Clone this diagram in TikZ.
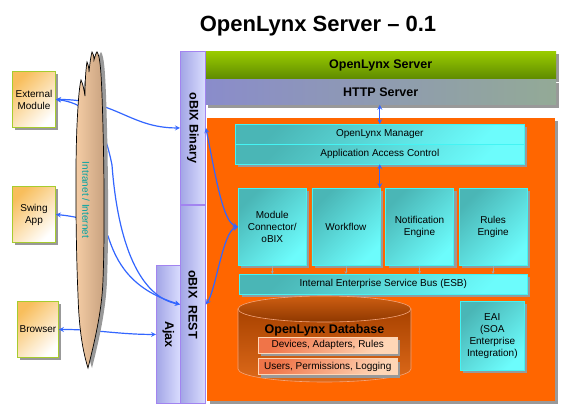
\documentclass[tikz,border=0pt]{standalone}
\usepackage{fontspec}
\setmainfont{Liberation Sans}
\usepackage{tikz}
\usetikzlibrary{arrows.meta, positioning, shadows, calc}

\definecolor{lynxgreen}{HTML}{9ACC00}
\definecolor{lynxgreendark}{HTML}{5E8A00}
\definecolor{httpleft}{HTML}{8A8CCB}
\definecolor{httpright}{HTML}{93AA96}
\definecolor{obixdark}{HTML}{A3A6E6}
\definecolor{obixlight}{HTML}{DADDFE}
\definecolor{obixrim}{HTML}{A284F0}
\definecolor{coreorange}{HTML}{FF6600}
\definecolor{tealdark}{HTML}{4AB6B6}
\definecolor{teallight}{HTML}{6CFCFC}
\definecolor{tealrim}{HTML}{44F4F4}
\definecolor{clientorange}{HTML}{F8BE5C}
\definecolor{clientrim}{HTML}{A6CC2E}
\definecolor{linkblue}{HTML}{3366FF}
\definecolor{nettan}{HTML}{C6A07E}
\definecolor{netlight}{HTML}{F6CEA6}
\definecolor{nettext}{HTML}{00A3A3}
\definecolor{dbdark}{HTML}{A84200}
\definecolor{dblight}{HTML}{DE6A1A}
\definecolor{dbrim}{HTML}{F4A47A}
\definecolor{dbitemdark}{HTML}{F07448}
\definecolor{dbitemlight}{HTML}{FFD6B6}

% outline of the intranet / internet cloud
\newcommand{\netoutline}{(88,368) .. controls (83,352) and (79,330) .. (78,295)
    .. controls (76,250) and (75,170) .. (77,125)
    .. controls (78,105) and (79,88) .. (81,80)
    .. controls (83,84) and (84,90) .. (85,96)
    .. controls (85,80) and (86,68) .. (87,62)
    .. controls (88,64) and (89,68) .. (89,72)
    .. controls (90,62) and (91,55) .. (92,52)
    .. controls (93,53) and (94,56) .. (94,60)
    .. controls (95,56) and (96,53) .. (97,52)
    .. controls (100,56) and (101,70) .. (102,95)
    .. controls (104,150) and (105,230) .. (103,280)
    .. controls (102,310) and (95,340) .. (88,368) -- cycle}

\begin{document}
\begin{tikzpicture}[
    x=1pt, y=-1pt,
    % Box styles
    basebox/.style={inner sep=1pt, align=center, font=\fontsize{10}{12}\selectfont},
    shadowed/.style={drop shadow={shadow xshift=3pt, shadow yshift=-3pt, fill=black!40, opacity=1}},
    clientbox/.style={basebox, shadowed, draw=clientrim, line width=0.9pt, top color=clientorange, bottom color=white, shading angle=45, minimum width=43pt, minimum height=56pt},
    obixbox/.style={basebox, draw=obixrim, line width=0.9pt, left color=obixdark, right color=obixlight, minimum width=25pt, font=\fontsize{12.5}{14}\selectfont\bfseries},
    barbox/.style={basebox, shadowed, minimum width=351pt, font=\fontsize{12.5}{14}\selectfont\bfseries},
    % Core component styles
    tealbox/.style={basebox, shadowed, draw=tealrim, line width=0.6pt, top color=tealdark, bottom color=teallight, shading angle=45},
    modbox/.style={tealbox, minimum width=68pt, minimum height=77pt},
    tealbar/.style={tealbox, minimum height=19.5pt},
    dbitem/.style={basebox, shadowed, top color=dbitemdark, bottom color=dbitemlight, shading angle=45, draw=dbitemlight, minimum width=139pt, minimum height=16pt},
    caption/.style={font=\fontsize{12.5}{14}\selectfont\bfseries},
    % Connector styles
    link/.style={>=stealth, line width=1.2pt, linkblue},
    busarrow/.style={->, >=stealth, thin, black!35}
]
\useasboundingbox (0,0) rectangle (568,412);

% Title
\node[font=\fontsize{22}{26}\selectfont\bfseries, anchor=base] (title) at (318,31.5) {OpenLynx Server – 0.1};

% Server bars at top
\node[barbox, anchor=north west, minimum height=28pt, top color=lynxgreen, bottom color=lynxgreendark] (srv_bar) at (205,51) {OpenLynx Server};
\node[barbox, below=0pt of srv_bar, minimum height=25pt, left color=httpleft, right color=httpright] (http_bar) {HTTP Server};

% Orange core
\node[basebox, shadowed, fill=coreorange, anchor=north west, minimum width=348pt, minimum height=283pt] (core) at (207,118) {};

% oBIX access columns
\node[obixbox, anchor=north west, minimum height=153pt] (obix_bin) at (180,51) {\rotatebox{-90}{oBIX Binary}};
\node[obixbox, anchor=north west, minimum height=198pt] (obix_rest) at (180,205) {\rotatebox{-90}{oBIX\ \ REST}};
\node[obixbox, anchor=north west, minimum width=24pt, minimum height=138pt] (ajax_bar) at (156,265) {\rotatebox{-90}{Ajax}};

% Clients on the left
\node[clientbox, anchor=north west] (ext_mod) at (12,71) {External\\Module};
\node[clientbox, anchor=north west] (swing_app) at (12,186) {Swing\\App};
\node[clientbox, anchor=north west, minimum width=41pt] (browser) at (17,301) {Browser};

% Manager and access control
\node[tealbar, anchor=north west, minimum width=289pt] (lynx_mgr) at (235,124) {OpenLynx Manager};
\node[tealbar, below=0pt of lynx_mgr, minimum width=289pt] (access_ctl) {Application Access Control};

% Modules
\node[modbox, anchor=north west] (mod_conn) at (238,188) {Module\\Connector/\\oBIX};
\node[modbox, right=5pt of mod_conn] (workflow) {Workflow};
\node[modbox, right=5pt of workflow] (notif_eng) {Notification\\Engine};
\node[modbox, right=5pt of notif_eng] (rules_eng) {Rules\\Engine};

% Service bus
\node[tealbar, anchor=north west, minimum width=288pt] (esb_bus) at (239,274) {Internal Enterprise Service Bus (ESB)};

% Database cylinder
\path[top color=dbdark, bottom color=dblight, draw=dbrim, line width=0.6pt]
    (238,309) -- (238,369) arc[start angle=180, end angle=360, x radius=86.5pt, y radius=13pt] -- (411,309) -- cycle;
\path[top color=dblight!70!dbdark, bottom color=dbdark!85!black, draw=dbrim, line width=0.6pt]
    (324.5,309) ellipse[x radius=86.5pt, y radius=13pt];
\node[caption] (db_title) at (324.5,330) {OpenLynx Database};
\node[dbitem, anchor=north west] (db_devices) at (258,337) {Devices, Adapters, Rules};
\node[dbitem, below=5pt of db_devices] (db_users) {Users, Permissions, Logging};

% Enterprise integration
\node[tealbox, anchor=north west, minimum width=64pt, minimum height=69pt] (eai_box) at (460,301) {EAI\\(SOA\\Enterprise\\Integration)};

% Modules onto the bus
\foreach \m in {mod_conn, workflow, notif_eng, rules_eng} {
    \draw[busarrow] (\m.south) -- (\m.south |- esb_bus.north);
}

% Inside the server
\draw[link, <->] (http_bar.south -| lynx_mgr.north) -- (lynx_mgr.north);
\draw[link, <->] (access_ctl.south) -- (access_ctl.south |- workflow.north);
\draw[link, <->] (obix_bin.east) .. controls +(10,50) and +(-15,-5) .. (mod_conn.west);
\draw[link, <->] (obix_rest.east) .. controls +(10,-15) and +(-15,5) .. (mod_conn.west);

% Clients to server
\draw[link, <->] (ext_mod.east) .. controls +(60,0) and +(-50,0) .. (obix_bin.west);
\draw[link, <->] (ext_mod.east) .. controls +(40,5) and +(-6,-30) .. (112,165)
    .. controls +(6,80) and +(-40,-8) .. (obix_rest.west);
\draw[link, <->] (swing_app.east) .. controls +(30,3) and +(-8,-12) .. (108,236)
    .. controls +(8,25) and +(-50,-15) .. (obix_rest.west);
\draw[link, <->] (browser.east) to[out=0, in=180] (ajax_bar.west);

% Intranet / Internet
\fill[black!40, xshift=4pt] \netoutline;
\path[left color=netlight, middle color=nettan, right color=nettan, draw=black, line width=0.7pt] \netoutline;
\node[rotate=-90, text=nettext, font=\fontsize{10}{12}\selectfont] (net_label) at (86,200) {Intranet / Internet};

\end{tikzpicture}
\end{document}
